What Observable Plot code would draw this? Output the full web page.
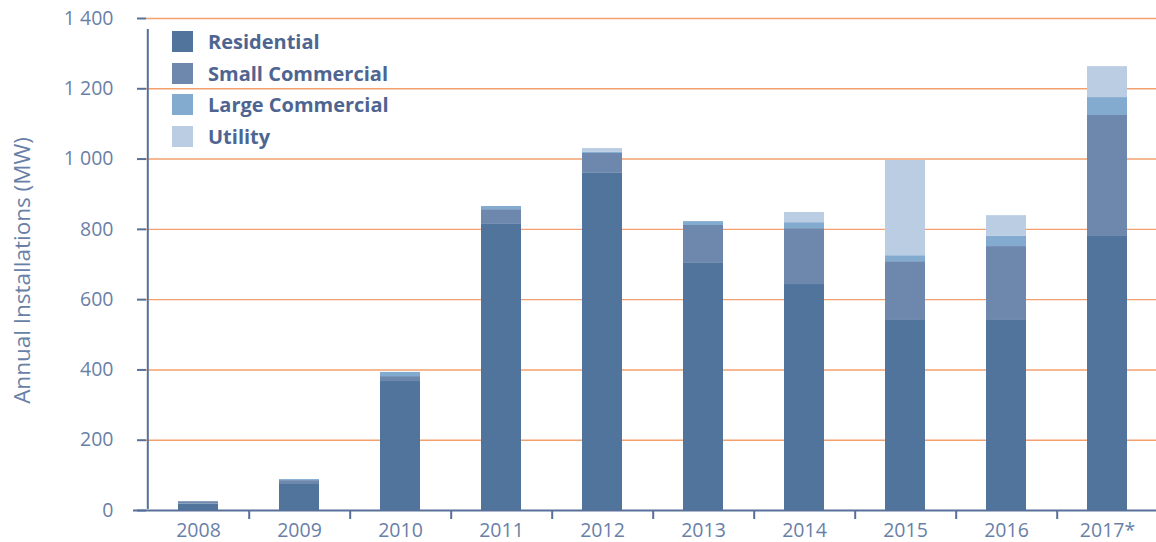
<!DOCTYPE html>
<html><head><meta charset="utf-8">
<script src="https://cdn.jsdelivr.net/npm/d3@7"></script>
<script src="https://cdn.jsdelivr.net/npm/@observablehq/plot@0.6"></script>
<style>
body{margin:0;background:#fff;}
#wrap{position:relative;width:1156px;height:542px;overflow:hidden;}
#legend{position:absolute;left:172px;top:31px;font-family:"Open Sans";font-weight:700;font-size:20px;color:#4E6591;}
.row{display:flex;align-items:center;height:21px;margin-bottom:10.5px;white-space:nowrap;}
.sw{width:21px;height:21px;margin-right:15px;flex:none;}
</style></head><body><div id="wrap"><div id="legend"></div></div>
<script>
const years = ["2008","2009","2010","2011","2012","2013","2014","2015","2016","2017*"];
const residential     = [18, 74, 367, 816, 961, 703, 643, 543, 543, 782];
const smallCommercial = [7, 11, 14, 40, 55, 108, 159, 165, 208, 342];
const largeCommercial = [0, 3, 12, 9, 4, 11, 17, 17, 29, 51];
const utility         = [0, 0, 0, 0, 10, 0, 29, 271, 59, 88];
const seriesNames = ["Residential","Small Commercial","Large Commercial","Utility"];
const seriesColors = ["#51749D","#6E88AD","#83ABD0","#BBCDE3"];
const yTicks = [0,200,400,600,800,1000,1200,1400];
const yLabel = "Annual Installations (MW)";

const seriesValues = [residential, smallCommercial, largeCommercial, utility];
const rows = years.flatMap((yr,i)=>seriesNames.map((s,j)=>({year:yr, series:s, value:seriesValues[j][i]})));

const W = 1156, H = 542, ML = 146, MR = -4;
const step = (W - MR - ML) / years.length;
const axisColor = "#56709A";
const textColor = "#6A7FA7";
const fmt = d => d3.format(",")(d).replace(/,/g, " ");

const plot = Plot.plot({
  width: W, height: H, marginLeft: ML, marginRight: MR, marginTop: 18, marginBottom: 32,
  style: {fontFamily: "Open Sans", fontSize: "19.5px", color: textColor, overflow: "visible", background: "#fff"},
  x: {domain: years, paddingInner: 0.6, paddingOuter: 0.3, align: 0.5, axis: null},
  y: {domain: [0, 1400], axis: null},
  color: {domain: seriesNames, range: seriesColors},
  marks: [
    Plot.ruleY(yTicks.filter(d => d > 0), {stroke: "#F2A06E", strokeWidth: 1.4}),
    Plot.barY(rows, {x: "year", y: "value", fill: "series", order: null}),
    Plot.axisY({ticks: yTicks, tickSize: 9, tickPadding: 24, tickFormat: fmt, stroke: axisColor, fill: textColor, strokeWidth: 2, label: null, fontSize: 19.5}),
    Plot.ruleX([years[0]], {x: d => d, dx: -step/2, y1: 0, y2: 1400, stroke: axisColor, strokeWidth: 2, insetBottom: -11, insetTop: -1}),
    Plot.ruleY([0], {stroke: axisColor, strokeWidth: 2, insetLeft: -13}),
    Plot.axisX({tickSize: 9, tickFormat: () => "", dx: step/2, stroke: axisColor, strokeWidth: 2, label: null}),
    Plot.axisX({tickSize: 0, tickPadding: 13, fill: textColor, label: null, fontSize: 19.5}),
    Plot.text([yLabel], {text: d => d, frameAnchor: "left", textAnchor: "middle", rotate: -90, dx: -124, dy: 6, fontSize: 22.5, fill: textColor})
  ]
});
document.getElementById("wrap").prepend(plot);

const legend = document.getElementById("legend");
seriesNames.forEach((s, i) => {
  const row = document.createElement("div");
  row.className = "row";
  const sw = document.createElement("div");
  sw.className = "sw";
  sw.style.background = seriesColors[i];
  const t = document.createElement("span");
  t.textContent = s;
  row.append(sw, t);
  legend.append(row);
});
</script>
</body></html>
